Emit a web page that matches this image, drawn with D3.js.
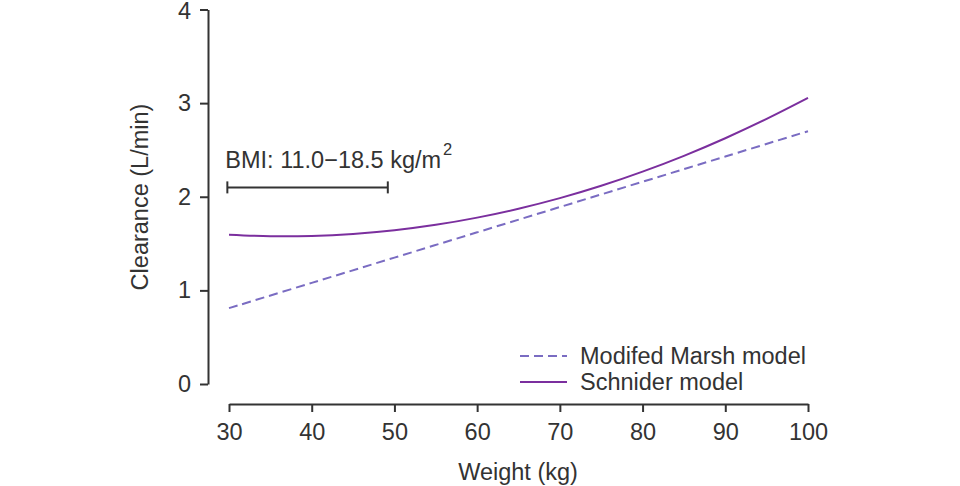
<script src="https://d3js.org/d3.v7.min.js"></script>
<style>
  body { margin: 0; background: #ffffff; }
  svg text { font-family: "Liberation Sans", Arial, sans-serif; fill: #333333; }
</style>
<div id="chart"></div>
<script>
  // weights (kg) and clearance (L/min)
  const weights = [30, 35, 40, 45, 50, 55, 60, 65, 70, 75, 80, 85, 90, 95, 100];
  const schnider = [1.595, 1.579, 1.582, 1.603, 1.642, 1.700, 1.777, 1.872, 1.985, 2.117, 2.268, 2.437, 2.625, 2.831, 3.055];
  const marshWeights = [30, 40, 50, 60, 70, 80, 90, 100];
  const marsh = [0.81, 1.08, 1.35, 1.62, 1.89, 2.16, 2.43, 2.70];
  const xTicks = [30, 40, 50, 60, 70, 80, 90, 100];
  const yTicks = [0, 1, 2, 3, 4];
  const bmiRange = [29.8, 49.2]; // weight span of the BMI bracket
  const bmiLevel = 2.1;

  const width = 960;
  const height = 486;
  const marshColor = "#7a6cc2";
  const schniderColor = "#7b2f9e";
  const axisColor = "#333333";
  const fontSize = "23.5px";

  const svg = d3.select("#chart")
    .append("svg")
    .attr("width", width)
    .attr("height", height);

  const x = d3.scaleLinear().domain([30, 100]).range([229, 808]);
  const y = d3.scaleLinear().domain([0, 4]).range([384, 9.5]);

  // y axis
  const yAxis = svg.append("g")
    .attr("transform", "translate(208,0)")
    .call(d3.axisLeft(y).tickValues(yTicks).tickFormat(d3.format("d"))
      .tickSize(8).tickSizeOuter(0).tickPadding(9));

  // x axis
  const xAxis = svg.append("g")
    .attr("transform", "translate(0,404)")
    .call(d3.axisBottom(x).tickValues(xTicks).tickFormat(d3.format("d"))
      .tickSize(8).tickSizeOuter(0).tickPadding(11));

  [yAxis, xAxis].forEach(g => {
    g.selectAll("path, line").attr("stroke", axisColor).attr("stroke-width", 2);
    g.selectAll("text").style("font-size", fontSize).attr("fill", axisColor);
  });
  // keep the top label just inside the page
  yAxis.selectAll(".tick text").filter(d => d === 4).attr("dy", "0.4em");

  // axis titles
  svg.append("text")
    .attr("transform", "translate(148,197) rotate(-90)")
    .attr("text-anchor", "middle")
    .style("font-size", fontSize)
    .text("Clearance (L/min)");

  svg.append("text")
    .attr("x", 518)
    .attr("y", 480)
    .attr("text-anchor", "middle")
    .style("font-size", fontSize)
    .text("Weight (kg)");

  // lines
  const line = d3.line()
    .x(d => x(d[0]))
    .y(d => y(d[1]))
    .curve(d3.curveCatmullRom.alpha(0.5));

  svg.append("path")
    .datum(marshWeights.map((w, i) => [w, marsh[i]]))
    .attr("d", line)
    .attr("fill", "none")
    .attr("stroke", marshColor)
    .attr("stroke-width", 2)
    .attr("stroke-dasharray", "9,5");

  svg.append("path")
    .datum(weights.map((w, i) => [w, schnider[i]]))
    .attr("d", line)
    .attr("fill", "none")
    .attr("stroke", schniderColor)
    .attr("stroke-width", 2);

  // BMI bracket
  const by = y(bmiLevel);
  const bracket = svg.append("g").attr("stroke", axisColor).attr("stroke-width", 2);
  bracket.append("line")
    .attr("x1", x(bmiRange[0])).attr("x2", x(bmiRange[1]))
    .attr("y1", by).attr("y2", by);
  bmiRange.forEach(w => {
    bracket.append("line")
      .attr("x1", x(w)).attr("x2", x(w))
      .attr("y1", by - 6).attr("y2", by + 6);
  });

  const bmiText = svg.append("text")
    .attr("x", x(bmiRange[0]) - 2)
    .attr("y", 168)
    .style("font-size", fontSize)
    .text("BMI: 11.0\u221218.5 kg/m");
  bmiText.append("tspan")
    .attr("dx", 2)
    .attr("dy", -13)
    .style("font-size", "16.5px")
    .text("2");

  // legend
  const legendItems = [
    {label: "Modifed Marsh model", color: marshColor, dash: "9,5"},
    {label: "Schnider model", color: schniderColor, dash: null}
  ];
  const legend = svg.append("g").attr("transform", "translate(520,356)");
  legendItems.forEach((d, i) => {
    const row = legend.append("g").attr("transform", `translate(0,${i * 26})`);
    row.append("line")
      .attr("x1", 0).attr("x2", 47)
      .attr("y1", 0).attr("y2", 0)
      .attr("stroke", d.color)
      .attr("stroke-width", 2)
      .attr("stroke-dasharray", d.dash);
    row.append("text")
      .attr("x", 60)
      .attr("dy", "0.35em")
      .style("font-size", fontSize)
      .text(d.label);
  });
</script>
